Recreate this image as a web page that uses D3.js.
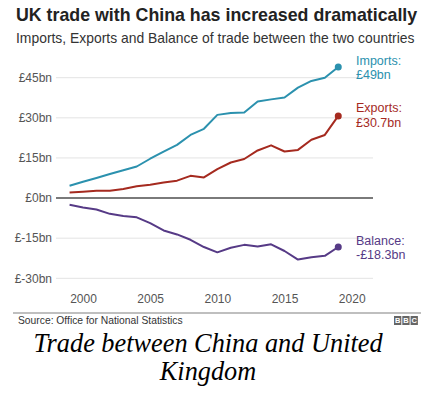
<!DOCTYPE html>
<html>
<head>
<meta charset="utf-8">
<script src="https://cdn.jsdelivr.net/npm/d3@7"></script>
<style>
  body { margin: 0; background: #fff; }
  svg { display: block; font-family: "Liberation Sans", Arial, sans-serif; }
</style>
</head>
<body>
<div id="chart"></div>
<script>
// ---- data ----
let years    = [1999, 2000, 2001, 2002, 2003, 2004, 2005, 2006, 2007, 2008, 2009,
                2010, 2011, 2012, 2013, 2014, 2015, 2016, 2017, 2018, 2019];
let imports  = [4.6, 6.1, 7.5, 9.0, 10.4, 11.8, 14.7, 17.4, 19.9, 23.6, 25.9,
                31.1, 31.8, 32.0, 36.1, 36.9, 37.6, 41.3, 43.8, 45.0, 49.0];
let exports_ = [2.1, 2.4, 2.7, 2.7, 3.4, 4.4, 5.0, 5.8, 6.5, 8.3, 7.7,
                10.8, 13.3, 14.6, 17.8, 19.7, 17.4, 18.0, 21.8, 23.6, 30.7];
let balance  = [-2.5, -3.5, -4.3, -5.9, -6.7, -7.2, -9.4, -12.1, -13.6, -15.6, -18.3,
                -20.3, -18.6, -17.5, -18.1, -17.3, -19.8, -23.0, -22.1, -21.6, -18.3];
let yTicks   = [45, 30, 15, 0, -15, -30];
let xTicks   = [2000, 2005, 2010, 2015, 2020];

let series = [
  { name: 'Imports', values: imports,  colour: '#2b91ae', label: ['Imports:', '£49bn'] },
  { name: 'Exports', values: exports_, colour: '#a52a1f', label: ['Exports:', '£30.7bn'] },
  { name: 'Balance', values: balance,  colour: '#563a86', label: ['Balance:', '-£18.3bn'] }
];

let width = 427, height = 396;

let svg = d3.select('#chart').append('svg')
            .attr('width', width)
            .attr('height', height);

// scales
let x = d3.scaleLinear().domain([2000, 2020]).range([83, 351.7]);
let y = d3.scaleLinear().domain([-30, 45]).range([278.3, 77.7]);

// titles
svg.append('text')
   .attr('x', 16).attr('y', 21)
   .attr('font-size', 17.8).attr('font-weight', 'bold').attr('fill', '#222')
   .text('UK trade with China has increased dramatically');
svg.append('text')
   .attr('x', 16).attr('y', 42.5)
   .attr('font-size', 13.9).attr('fill', '#333')
   .text('Imports, Exports and Balance of trade between the two countries');

// y grid + labels
let grid = svg.append('g');
grid.selectAll('line')
    .data(yTicks)
    .enter().append('line')
    .attr('x1', 56).attr('x2', 373)
    .attr('y1', d => y(d)).attr('y2', d => y(d))
    .attr('stroke', d => d === 0 ? '#7a7a7a' : '#e3e3e3')
    .attr('stroke-width', d => d === 0 ? 2 : 1);
grid.selectAll('text')
    .data(yTicks)
    .enter().append('text')
    .attr('x', 52).attr('y', d => y(d))
    .attr('dy', '0.35em')
    .attr('text-anchor', 'end')
    .attr('font-size', 12).attr('fill', '#555')
    .text(d => '£' + d + 'bn');

// x axis labels
let xAxis = d3.axisBottom(x).tickValues(xTicks).tickFormat(d3.format('d')).tickSize(0);
svg.append('g')
   .attr('transform', 'translate(0, 291)')
   .call(xAxis)
   .call(g => g.select('.domain').remove())
   .call(g => g.selectAll('text')
               .attr('font-size', 12)
               .attr('fill', '#555')
               .attr('font-family', '"Liberation Sans", Arial, sans-serif'));

// lines
let line = d3.line()
             .x((d, i) => x(years[i]))
             .y(d => y(d));

series.forEach(s => {
  svg.append('path')
     .attr('d', line(s.values))
     .attr('fill', 'none')
     .attr('stroke', s.colour)
     .attr('stroke-width', 2)
     .attr('stroke-linejoin', 'round');

  let last = s.values[s.values.length - 1];
  svg.append('circle')
     .attr('cx', x(years[years.length - 1]))
     .attr('cy', y(last))
     .attr('r', 3.5)
     .attr('fill', s.colour);
});

// end labels
let labelY = { Imports: [61, 74.5], Exports: [108, 122.5], Balance: [241, 255] };
series.forEach(s => {
  s.label.forEach((t, k) => {
    svg.append('text')
       .attr('x', 356).attr('y', labelY[s.name][k])
       .attr('dy', '0.35em')
       .attr('font-size', 12.5)
       .attr('fill', s.colour)
       .text(t);
  });
});

// footer
svg.append('line')
   .attr('x1', 13).attr('x2', 421)
   .attr('y1', 313).attr('y2', 313)
   .attr('stroke', '#aaa').attr('stroke-width', 1.5);
svg.append('text')
   .attr('x', 18).attr('y', 320)
   .attr('dy', '0.35em')
   .attr('font-size', 10.3).attr('fill', '#333')
   .text('Source: Office for National Statistics');

// BBC blocks
let bbc = svg.append('g').attr('transform', 'translate(394, 316)');
['B', 'B', 'C'].forEach((c, i) => {
  bbc.append('rect')
     .attr('x', i * 8.3).attr('y', 0)
     .attr('width', 7.3).attr('height', 9)
     .attr('fill', '#666');
  bbc.append('text')
     .attr('x', i * 8.3 + 3.65).attr('y', 4.6)
     .attr('dy', '0.35em')
     .attr('text-anchor', 'middle')
     .attr('font-size', 7.5).attr('font-weight', 'bold')
     .attr('fill', '#fff')
     .text(c);
});

// caption
let cap = svg.append('text')
   .attr('text-anchor', 'middle')
   .attr('font-family', '"Liberation Serif", "Times New Roman", serif')
   .attr('font-style', 'italic')
   .attr('font-size', 26.3)
   .attr('fill', '#000');
cap.append('tspan').attr('x', 208).attr('y', 352).text('Trade between China and United');
cap.append('tspan').attr('x', 208).attr('y', 380).text('Kingdom');
</script>
</body>
</html>
